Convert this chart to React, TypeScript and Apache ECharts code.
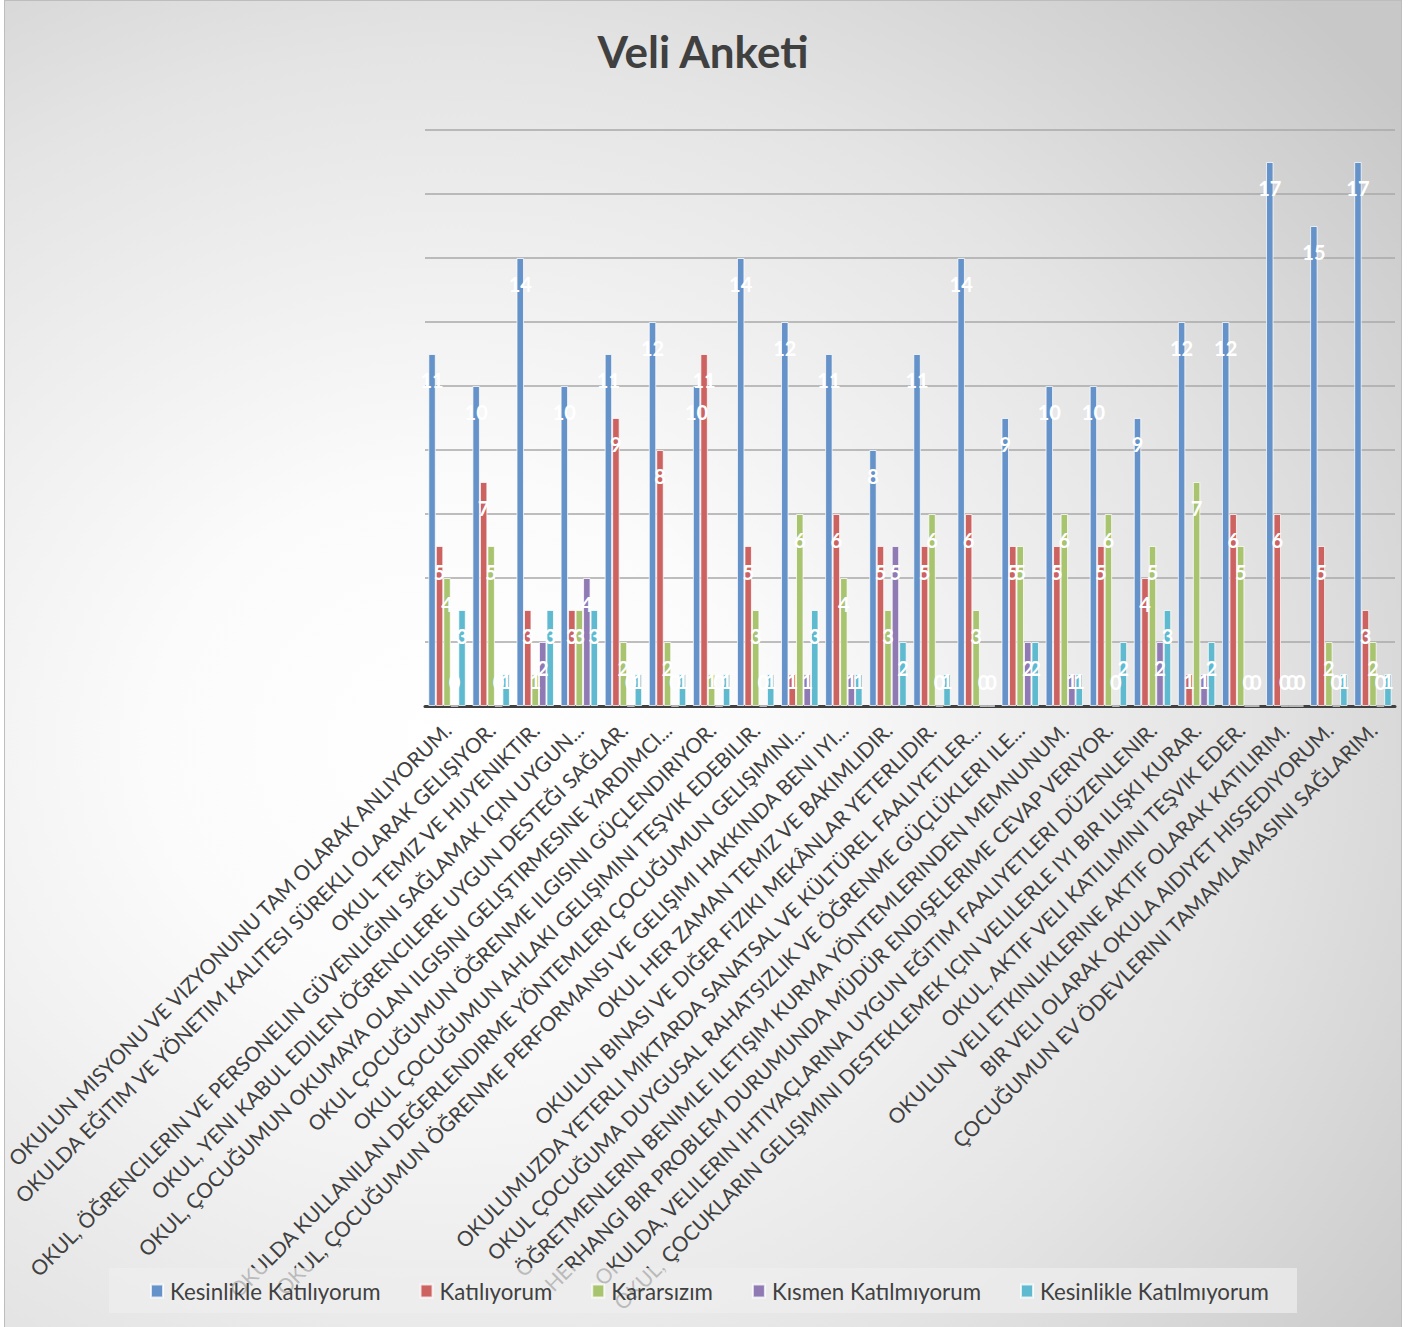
import React, { useEffect, useRef } from "react";
import * as echarts from "echarts";

const categories = [
  "OKULUN MISYONU VE VIZYONUNU TAM OLARAK ANLIYORUM.",
  "OKULDA EĞITIM VE YÖNETIM KALITESI SÜREKLI OLARAK GELIŞIYOR.",
  "OKUL TEMIZ VE HIJYENIKTIR.",
  "OKUL, ÖĞRENCILERIN VE PERSONELIN GÜVENLIĞINI SAĞLAMAK IÇIN UYGUN...",
  "OKUL, YENI KABUL EDILEN ÖĞRENCILERE UYGUN DESTEĞI SAĞLAR.",
  "OKUL, ÇOCUĞUMUN OKUMAYA OLAN ILGISINI GELIŞTIRMESINE YARDIMCI...",
  "OKUL ÇOCUĞUMUN ÖĞRENME ILGISINI GÜÇLENDIRIYOR.",
  "OKUL ÇOCUĞUMUN AHLAKI GELIŞIMINI TEŞVIK EDEBILIR.",
  "OKULDA KULLANILAN DEĞERLENDIRME YÖNTEMLERI ÇOCUĞUMUN GELIŞIMINI...",
  "OKUL, ÇOCUĞUMUN ÖĞRENME PERFORMANSI VE GELIŞIMI HAKKINDA BENI IYI...",
  "OKUL HER ZAMAN TEMIZ VE BAKIMLIDIR.",
  "OKULUN BINASI VE DIĞER FIZIKI MEKÂNLAR YETERLIDIR.",
  "OKULUMUZDA YETERLI MIKTARDA SANATSAL VE KÜLTÜREL FAALIYETLER...",
  "OKUL ÇOCUĞUMA DUYGUSAL RAHATSIZLIK VE ÖĞRENME GÜÇLÜKLERI ILE...",
  "ÖĞRETMENLERIN BENIMLE ILETIŞIM KURMA YÖNTEMLERINDEN MEMNUNUM.",
  "HERHANGI BIR PROBLEM DURUMUNDA MÜDÜR ENDIŞELERIME CEVAP VERIYOR.",
  "OKULDA, VELILERIN IHTIYAÇLARINA UYGUN EĞITIM FAALIYETLERI DÜZENLENIR.",
  "OKUL, ÇOCUKLARIN GELIŞIMINI DESTEKLEMEK IÇIN VELILERLE IYI BIR ILIŞKI KURAR.",
  "OKUL, AKTIF VELI KATILIMINI TEŞVIK EDER.",
  "OKULUN VELI ETKINLIKLERINE AKTIF OLARAK KATILIRIM.",
  "BIR VELI OLARAK OKULA AIDIYET HISSEDIYORUM.",
  "ÇOCUĞUMUN EV ÖDEVLERINI TAMAMLAMASINI SAĞLARIM.",
];

const seriesNames = [
  "Kesinlikle Katılıyorum",
  "Katılıyorum",
  "Kararsızım",
  "Kısmen Katılmıyorum",
  "Kesinlikle Katılmıyorum",
];

const kesinlikleKatiliyorum = [11, 10, 14, 10, 11, 12, 10, 14, 12, 11, 8, 11, 14, 9, 10, 10, 9, 12, 12, 17, 15, 17];
const katiliyorum = [5, 7, 3, 3, 9, 8, 11, 5, 1, 6, 5, 5, 6, 5, 5, 5, 4, 1, 6, 6, 5, 3];
const kararsizim = [4, 5, 1, 3, 2, 2, 1, 3, 6, 4, 3, 6, 3, 5, 6, 6, 5, 7, 5, 0, 2, 2];
const kismenKatilmiyorum = [0, 0, 2, 4, 0, 0, 0, 0, 1, 1, 5, 0, 0, 2, 1, 0, 2, 1, 0, 0, 0, 0];
const kesinlikleKatilmiyorum = [3, 1, 3, 3, 1, 1, 1, 1, 3, 1, 2, 1, 0, 2, 1, 2, 3, 2, 0, 0, 1, 1];

const yTicks = { min: 0, max: 18, interval: 2 };

const seriesValues = [
  kesinlikleKatiliyorum,
  katiliyorum,
  kararsizim,
  kismenKatilmiyorum,
  kesinlikleKatilmiyorum,
];

const colors = ["#6592C8", "#CD6361", "#A8C46E", "#907AB4", "#5FBAD0"];

const FONT = "Lato, 'Open Sans', sans-serif";

export default function App() {
  const ref = useRef<HTMLDivElement>(null);

  useEffect(() => {
    if (!ref.current) return;
    const chart = echarts.init(ref.current, null, { renderer: "svg" });

    const series = seriesValues.map((vals, si) => ({
      name: seriesNames[si],
      type: "bar",
      barGap: "0%",
      barCategoryGap: "15%",
      itemStyle: {
        color: colors[si],
        borderColor: "rgba(255,255,255,0.75)",
        borderWidth: 1,
      },
      label: {
        show: true,
        color: "#ffffff",
        fontSize: 20,
        fontWeight: "bold",
        fontFamily: FONT,
      },
      data: vals.map((v) => ({
        value: v,
        label:
          v >= 2
            ? { position: "insideTop", distance: 16 }
            : { position: "insideBottom", distance: 15 },
      })),
    }));

    chart.setOption({
      animation: false,
      textStyle: { fontFamily: FONT },
      color: colors,
      title: {
        text: "Veli Anketi",
        left: 698,
        textAlign: "center",
        top: 24,
        textStyle: {
          fontSize: 44,
          fontWeight: "bold",
          color: "#404040",
          fontFamily: FONT,
        },
      },
      legend: {
        data: seriesNames,
        left: 150,
        top: 1280,
        padding: 0,
        itemWidth: 12,
        itemHeight: 13,
        itemGap: 39,
        icon: "rect",
        z: 60,
        textStyle: {
          fontSize: 22.3,
          color: "#404040",
          fontFamily: FONT,
          padding: [0, 0, 0, 2],
        },
      },
      graphic: [
        {
          type: "rect",
          z: 50,
          shape: { x: 109, y: 1268, width: 1188, height: 45 },
          style: { fill: "rgba(238,238,238,0.7)" },
        },
      ],
      grid: { left: 425, right: 23, top: 130, bottom: 621, outerBoundsMode: "none", containLabel: false },
      xAxis: {
        type: "category",
        data: categories,
        axisLine: { lineStyle: { color: "#404040", width: 3 } },
        axisTick: { show: false },
        axisLabel: {
          interval: 0,
          rotate: 45,
          fontSize: 20.8,
          color: "#404040",
          margin: 20,
          fontFamily: FONT,
        },
      },
      yAxis: {
        type: "value",
        min: yTicks.min,
        max: yTicks.max,
        interval: yTicks.interval,
        axisLabel: { show: false },
        axisLine: { show: false },
        axisTick: { show: false },
        splitLine: { lineStyle: { color: "#a8a8a8", width: 1.5 } },
      },
      series,
    });

    return () => chart.dispose();
  }, []);

  return (
    <div style={{ position: "absolute", left: 0, top: 0, width: 1418, height: 1327, background: "#ffffff", overflow: "hidden" }}>
      <div
        style={{
          position: "absolute",
          left: 4,
          top: 0,
          width: 1398,
          height: 1330,
          boxSizing: "border-box",
          border: "1px solid #bdbdbd",
          background:
            "radial-gradient(ellipse 1200px 1050px at 32% 56%, #ffffff 0%, #fbfbfb 25%, #e4e4e4 66%, #c8c8c8 100%)",
        }}
      />
      <div ref={ref} style={{ position: "absolute", left: 0, top: 0, width: 1418, height: 1327 }} />
    </div>
  );
}
